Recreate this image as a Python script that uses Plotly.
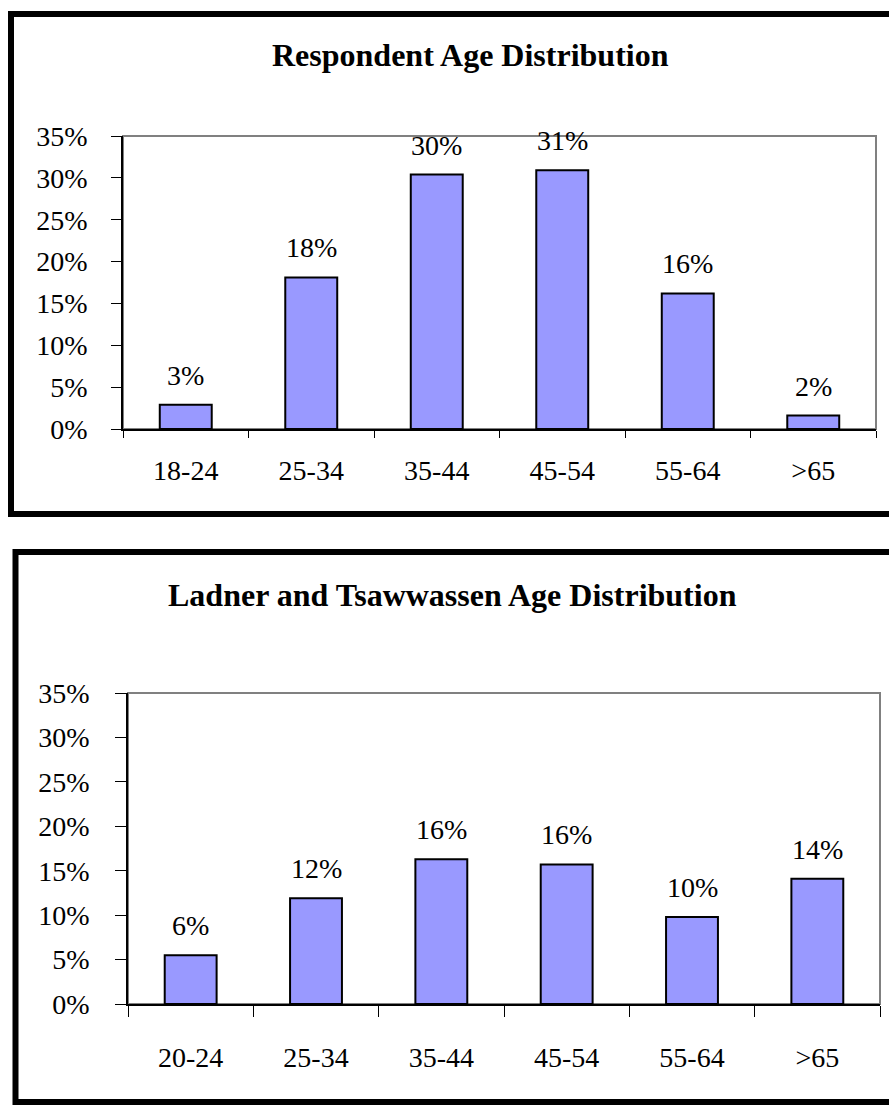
import plotly.graph_objects as go

# ---- data ----
respondent_groups = ["18-24", "25-34", "35-44", "45-54", "55-64", ">65"]
respondent_pct = [2.9, 18.1, 30.4, 30.9, 16.2, 1.6]

ladner_groups = ["20-24", "25-34", "35-44", "45-54", "55-64", ">65"]
ladner_pct = [5.5, 11.9, 16.3, 15.7, 9.8, 14.1]

y_ticks = [0, 5, 10, 15, 20, 25, 30, 35]
y_tick_labels = [f"{v}%" for v in y_ticks]

title_top = "Respondent Age Distribution"
title_bottom = "Ladner and Tsawwassen Age Distribution"

# ---- layout helpers ----
W, H = 889, 1111
FONT = "Liberation Serif, Times New Roman, serif"
BAR_COLOR = "#9999FF"


def px_x(p):
    return p / W


def px_y(p):
    return 1 - p / H


fig = go.Figure()

fig.add_trace(go.Bar(x=respondent_groups, y=respondent_pct, xaxis="x", yaxis="y",
                     marker=dict(color=BAR_COLOR, line=dict(color="black", width=2)),
                     hoverinfo="x+y", showlegend=False))
fig.add_trace(go.Bar(x=ladner_groups, y=ladner_pct, xaxis="x2", yaxis="y2",
                     marker=dict(color=BAR_COLOR, line=dict(color="black", width=2)),
                     hoverinfo="x+y", showlegend=False))

annotations = []
for cats, vals, xa, ya in [(respondent_groups, respondent_pct, "x", "y"),
                           (ladner_groups, ladner_pct, "x2", "y2")]:
    for c, v in zip(cats, vals):
        annotations.append(dict(x=c, y=v, xref=xa, yref=ya, text=f"{v:.0f}%",
                                showarrow=False, yanchor="bottom", yshift=12,
                                font=dict(family=FONT, size=28, color="black")))

annotations.append(dict(x=px_x(470), y=px_y(55), xref="paper", yref="paper",
                        text=f"<b>{title_top}</b>", showarrow=False,
                        xanchor="center", yanchor="middle",
                        font=dict(family=FONT, size=32, color="black")))
annotations.append(dict(x=px_x(452), y=px_y(595), xref="paper", yref="paper",
                        text=f"<b>{title_bottom}</b>", showarrow=False,
                        xanchor="center", yanchor="middle",
                        font=dict(family=FONT, size=32, color="black")))

shapes = [
    # outer frames
    dict(type="rect", xref="paper", yref="paper",
         x0=px_x(11), x1=px_x(905), y0=px_y(514), y1=px_y(14),
         line=dict(color="black", width=6), fillcolor="rgba(0,0,0,0)"),
    dict(type="rect", xref="paper", yref="paper",
         x0=px_x(15.5), x1=px_x(905), y0=px_y(1102), y1=px_y(552),
         line=dict(color="black", width=6), fillcolor="rgba(0,0,0,0)"),
    # gray plot-area borders
    dict(type="rect", xref="x domain", yref="y domain", x0=0, x1=1, y0=0, y1=1,
         line=dict(color="#808080", width=2), layer="below"),
    dict(type="rect", xref="x2 domain", yref="y2 domain", x0=0, x1=1, y0=0, y1=1,
         line=dict(color="#808080", width=2), layer="below"),
]

common_x = dict(type="category", showline=True, linecolor="black", linewidth=1.5,
                ticks="outside", tickson="boundaries", tickcolor="black", tickwidth=1,
                showgrid=False, zeroline=False, automargin=False,
                tickfont=dict(family=FONT, size=28, color="black"))
common_y = dict(range=[0, 35], tickmode="array", tickvals=y_ticks, ticktext=y_tick_labels,
                showline=True, linecolor="black", linewidth=1.5, ticks="outside",
                tickcolor="black", tickwidth=1, showgrid=False, zeroline=False,
                automargin=False,
                tickfont=dict(family=FONT, size=28, color="black"))

fig.update_layout(
    width=W, height=H, autosize=False,
    margin=dict(l=0, r=0, t=0, b=0, pad=0, autoexpand=False),
    paper_bgcolor="white", plot_bgcolor="white",
    bargap=0.586,
    xaxis=dict(common_x, domain=[px_x(123), px_x(876)], anchor="y",
               ticklen=7, ticklabelstandoff=16),
    yaxis=dict(common_y, domain=[px_y(429), px_y(136)], anchor="x",
               ticklen=10, ticklabelstandoff=18),
    xaxis2=dict(common_x, domain=[px_x(128), px_x(880)], anchor="y2",
                ticklen=11, ticklabelstandoff=28),
    yaxis2=dict(common_y, domain=[px_y(1004), px_y(693)], anchor="x2",
                ticklen=11, ticklabelstandoff=20),
    annotations=annotations,
    shapes=shapes,
)

fig.write_html("out.html",
               config={"displayModeBar": False},
               post_script="document.body.style.margin='0';"
                           "document.body.style.overflow='hidden';")
